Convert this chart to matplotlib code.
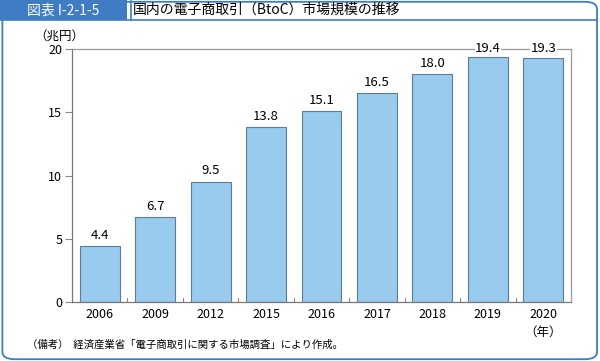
import numpy as np
import matplotlib
matplotlib.use('Agg')
from matplotlib import pyplot as plt
from matplotlib.patches import FancyBboxPatch, Rectangle

plt.rcParams['font.family'] = ['Noto Sans CJK JP', 'DejaVu Sans']

years = ['2006', '2009', '2012', '2015', '2016', '2017', '2018', '2019', '2020']
values = [4.4, 6.7, 9.5, 13.8, 15.1, 16.5, 18.0, 19.4, 19.3]
yticks = [0, 5, 10, 15, 20]

blue = '#3f7cc4'
fig = plt.figure(figsize=(6, 3.61), dpi=100)

# frame
fig.patches.append(FancyBboxPatch((0.004, 0.005), 0.991, 0.99, boxstyle='round,pad=0,rounding_size=0.02',
                                  transform=fig.transFigure, fill=False, edgecolor=blue, linewidth=1.3))
fig.patches.append(Rectangle((0, 0.945), 0.212, 0.055, transform=fig.transFigure,
                             facecolor=blue, edgecolor='none'))
fig.lines.append(plt.Line2D([0, 0.995], [0.945, 0.945], transform=fig.transFigure, color=blue, linewidth=1.2))
fig.lines.append(plt.Line2D([0.218, 0.218], [0.945, 0.997], transform=fig.transFigure, color=blue, linewidth=1.2))
fig.text(0.106, 0.972, '図表 I-2-1-5', color='white', fontsize=10, ha='center', va='center')
fig.text(0.222, 0.972, '国内の電子商取引（BtoC）市場規模の推移', color='black', fontsize=10, ha='left', va='center')

ax = fig.add_axes([0.12, 0.1634, 0.8317, 0.7008])
x = np.arange(len(years))
ax.bar(x, values, width=0.72, color='#98cbee', edgecolor='#5f7d92', linewidth=0.8, zorder=2)
ax.set_xlim(-0.5, len(years) - 0.5)
ax.set_ylim(0, 20)
ax.set_yticks(yticks)
ax.set_xticks(x)
ax.set_xticklabels(years, fontsize=9)
ax.tick_params(axis='x', length=0, pad=4)
ax.tick_params(axis='y', length=5, direction='out', labelsize=9, color='#888888', pad=2)
for s in ax.spines.values():
    s.set_color('#999999')
    s.set_linewidth(0.9)
ax.spines['left'].set_color('#777777')
ax.spines['bottom'].set_color('#777777')

# small ticks between categories
for b in x[:-1] + 0.5:
    ax.plot([b, b], [0, 0.35], color='#888888', linewidth=0.8, zorder=1)

for xi, v in zip(x, values):
    if v > 19:
        ax.text(xi, 20.05, f'{v:.1f}', ha='center', va='center', fontsize=9.5,
                bbox=dict(facecolor='white', edgecolor='none', pad=0.3), zorder=5, clip_on=False)
    else:
        ax.text(xi, v + 0.35, f'{v:.1f}', ha='center', va='bottom', fontsize=9.5)

fig.text(0.098, 0.9, '（兆円）', fontsize=9, ha='center', va='center')
fig.text(0.905, 0.08, '（年）', fontsize=9, ha='center', va='center')
fig.text(0.045, 0.045, '（備考）  経済産業省「電子商取引に関する市場調査」により作成。', fontsize=7.5, ha='left', va='center')

fig.savefig('out.png', dpi=100)
